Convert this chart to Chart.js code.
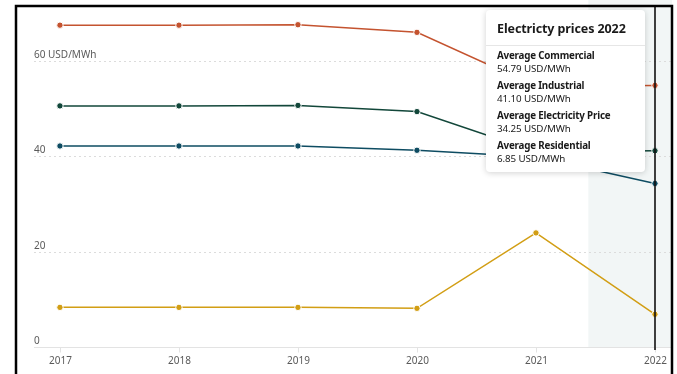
<!DOCTYPE html>
<html>
<head>
<meta charset="utf-8">
<script src="https://cdn.jsdelivr.net/npm/chart.js@4.4.1/dist/chart.umd.min.js"></script>
<style>
  html, body { margin: 0; padding: 0; background: #fff; }
  #wrap { position: relative; width: 677px; height: 374px; overflow: hidden; }
  #c { display: block; }
  #tip {
    position: absolute; left: 486px; top: 10px; width: 159px; height: 162px;
    background: #fff; border-radius: 4px; box-sizing: border-box;
    box-shadow: 0 1px 6px rgba(0,0,0,0.18);
    font-family: "Noto Sans", sans-serif; color: #1a1a1a;
  }
  #tip .title { font-weight: 700; font-size: 12.5px; padding: 10px 11px 8px 11px; border-bottom: 1px solid #e6e6e6; letter-spacing: -0.1px; }
  #tip .body { padding: 4px 11px 0 11px; }
  #tip .item { margin-bottom: 5px; }
  #tip .lab { font-weight: 700; font-size: 9.8px; line-height: 12.5px; letter-spacing: -0.2px; }
  #tip .val { font-size: 9.8px; line-height: 12.5px; letter-spacing: -0.1px; }
</style>
</head>
<body>
<div id="wrap">
  <canvas id="c" width="677" height="374"></canvas>
  <div id="tip" style="display:none"></div>
</div>
<script>
const years = [2017, 2018, 2019, 2020, 2021, 2022];
const commercial = [67.4, 67.4, 67.5, 65.9, 54.6, 54.79];
const industrial = [50.5, 50.5, 50.6, 49.3, 40.9, 41.10];
const average = [42.1, 42.1, 42.1, 41.2, 39.8, 34.25];
const residential = [8.3, 8.3, 8.3, 8.1, 23.9, 6.85];
const yTicks = [0, 20, 40, 60];
const tipTitle = "Electricty prices 2022";

const $ = (id) => document.getElementById(id);
const FONT = '"Noto Sans", sans-serif';

function series(label, vals, color) {
  return {
    label,
    data: years.map((y, i) => ({ x: y, y: vals[i] })),
    borderColor: color,
    backgroundColor: color,
    borderWidth: 1.5,
    pointRadius: 3.2,
    pointBorderColor: "#fff",
    pointBorderWidth: 1,
    pointHoverRadius: 3.2,
    pointHoverBorderWidth: 1,
    tension: 0
  };
}

// grid, labels, shaded band, crosshair, frame
const decor = {
  id: "decor",
  beforeDatasetsDraw(chart) {
    const { ctx, chartArea: a, scales: { x, y } } = chart;
    ctx.save();
    // shaded band for current year
    const bx = x.getPixelForValue(2021.44);
    ctx.fillStyle = "#f2f6f6";
    ctx.fillRect(bx, 0, a.right - bx, y.getPixelForValue(0));
    // dotted grid + y labels
    ctx.font = "10px " + FONT;
    ctx.fillStyle = "#5a5a5a";
    ctx.textAlign = "left";
    ctx.textBaseline = "alphabetic";
    yTicks.forEach(v => {
      const py = Math.round(y.getPixelForValue(v)) + 0.5;
      if (v > 0) {
        ctx.strokeStyle = "#dcdcdc";
        ctx.lineWidth = 1;
        ctx.setLineDash([2, 3]);
        ctx.beginPath(); ctx.moveTo(a.left, py); ctx.lineTo(a.right, py); ctx.stroke();
        ctx.setLineDash([]);
      }
      ctx.fillText(v === 60 ? "60 USD/MWh" : String(v), a.left, py - 4);
    });
    // x axis line + ticks + labels
    const p0 = Math.round(y.getPixelForValue(0)) + 0.5;
    ctx.strokeStyle = "#e3e3e3";
    ctx.lineWidth = 1;
    ctx.beginPath(); ctx.moveTo(a.left, p0); ctx.lineTo(a.right, p0); ctx.stroke();
    ctx.textAlign = "center";
    ctx.textBaseline = "middle";
    years.forEach(yr => {
      const px = Math.round(x.getPixelForValue(yr)) + 0.5;
      ctx.beginPath(); ctx.moveTo(px, p0); ctx.lineTo(px, p0 + 5); ctx.stroke();
      ctx.fillText(String(yr), px, p0 + 14);
    });
    ctx.restore();
  },
  afterDraw(chart) {
    const { ctx, scales: { x, y } } = chart;
    ctx.save();
    // crosshair on 2022
    const cx = Math.round(x.getPixelForValue(2022));
    ctx.strokeStyle = "#111";
    ctx.lineWidth = 1.6;
    ctx.beginPath(); ctx.moveTo(cx, 6); ctx.lineTo(cx, y.getPixelForValue(0) + 3); ctx.stroke();
    // frame
    ctx.lineWidth = 2.5;
    ctx.strokeStyle = "#000";
    ctx.beginPath();
    ctx.moveTo(16, 380); ctx.lineTo(16, 6); ctx.lineTo(672, 6); ctx.lineTo(672, 380);
    ctx.stroke();
    ctx.restore();
  }
};

function externalTip(context) {
  const t = context.tooltip;
  const el = $("tip");
  if (!t || t.opacity === 0 || !t.dataPoints || !t.dataPoints.length) { el.style.display = "none"; return; }
  let html = `<div class="title">${tipTitle}</div><div class="body">`;
  t.dataPoints.forEach(dp => {
    html += `<div class="item"><div class="lab">${dp.dataset.label}</div><div class="val">${dp.parsed.y.toFixed(2)} USD/MWh</div></div>`;
  });
  html += `</div>`;
  el.innerHTML = html;
  el.style.display = "block";
}

const chart = new Chart($("c"), {
  type: "line",
  data: {
    datasets: [
      series("Average Commercial", commercial, "#c4532f"),
      series("Average Industrial", industrial, "#12473a"),
      series("Average Electricity Price", average, "#0e4c62"),
      series("Average Residential", residential, "#d29e14")
    ]
  },
  options: {
    responsive: false,
    animation: false,
    events: [],
    layout: { padding: { left: 34, right: 5, top: 8, bottom: 27 } },
    scales: {
      x: { type: "linear", min: 2016.782, max: 2022.143, display: false },
      y: { min: 0, max: 71, display: false }
    },
    plugins: {
      legend: { display: false },
      tooltip: { enabled: false, mode: "index", intersect: false, external: externalTip }
    }
  },
  plugins: [decor]
});

const idx = years.indexOf(2022);
const active = chart.data.datasets.map((d, i) => ({ datasetIndex: i, index: idx }));
chart.tooltip.setActiveElements(active, { x: 655, y: 100 });
chart.update("none");
</script>
</body>
</html>
